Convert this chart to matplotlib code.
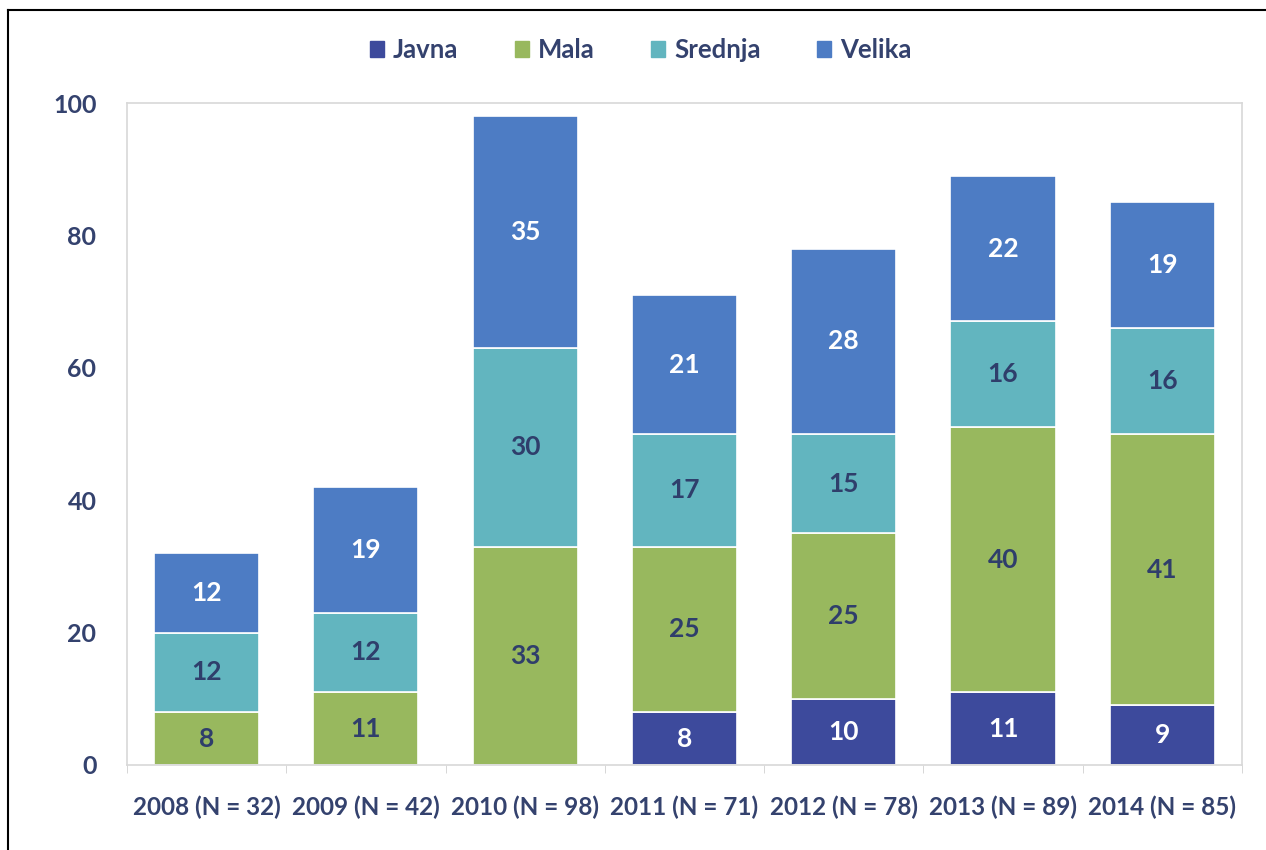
import matplotlib
matplotlib.use("Agg")
import matplotlib.pyplot as plt
from matplotlib.lines import Line2D
import numpy as np

plt.rcParams['font.family'] = ['Lato', 'DejaVu Sans']
plt.rcParams['font.weight'] = 'bold'

# data
years = ["2008", "2009", "2010", "2011", "2012", "2013", "2014"]
totals = [32, 42, 98, 71, 78, 89, 85]
javna = [0, 0, 0, 8, 10, 11, 9]
mala = [8, 11, 33, 25, 25, 40, 41]
srednja = [12, 12, 30, 17, 15, 16, 16]
velika = [12, 19, 35, 21, 28, 22, 19]

series = [("Javna", javna, "#3d4a9c", "white"),
          ("Mala", mala, "#98b85e", "#2f3e6b"),
          ("Srednja", srednja, "#62b5bf", "#2f3e6b"),
          ("Velika", velika, "#4d7cc4", "white")]

navy = "#34426e"
labels = [f"{y} (N = {n})" for y, n in zip(years, totals)]

fig = plt.figure(figsize=(12.66, 8.5), dpi=100)
ax = fig.add_axes([0.1003, 0.1, 0.8807, 0.7788])

x = np.arange(len(years))
bottom = np.zeros(len(years))
for name, vals, col, tcol in series:
    vals = np.array(vals, dtype=float)
    ax.bar(x, vals, 0.66, bottom=bottom, color=col, edgecolor="white",
           linewidth=1.2, label=name, zorder=2)
    for xi, b, v in zip(x, bottom, vals):
        if v > 0:
            ax.text(xi, b + v / 2, f"{int(v)}", ha="center", va="center",
                    fontsize=19, color=tcol, fontweight="bold", zorder=3)
    bottom += vals

ax.set_xlim(-0.5, len(years) - 0.5)
ax.set_ylim(0, 100)
ax.set_yticks(range(0, 101, 20))
ax.set_xticks(x)
ax.set_xticklabels(labels)
ax.set_xticks(np.arange(-0.5, len(years), 1), minor=True)
ax.tick_params(axis="x", which="major", length=0, pad=22, labelsize=17.5, labelcolor=navy)
ax.tick_params(axis="x", which="minor", length=6, color="#d0d0d0")
ax.tick_params(axis="y", length=0, pad=22, labelsize=18, labelcolor=navy)
for s in ax.spines.values():
    s.set_color("#d8d8d8")
    s.set_linewidth(1.2)

handles = [plt.Rectangle((0, 0), 1, 1, color=c) for _, _, c, _ in series]
fig.legend(handles, [n for n, _, _, _ in series], loc="center",
           bbox_to_anchor=(0.506, 0.941), ncol=4, frameon=False,
           fontsize=18.5, handlelength=0.55, handleheight=0.55,
           columnspacing=2.2, handletextpad=0.35, labelcolor=navy)

# scan border
fig.add_artist(Line2D([0.0063, 0.0063], [0, 0.988], color="black", lw=1.5))
fig.add_artist(Line2D([0.0063, 1.0], [0.988, 0.988], color="black", lw=1.5))

fig.savefig("out.png", dpi=100)
